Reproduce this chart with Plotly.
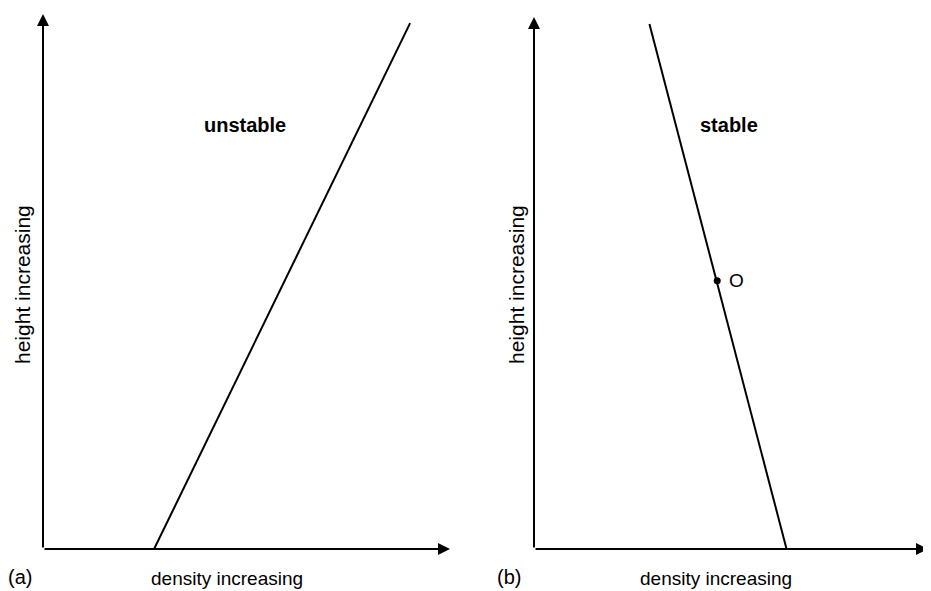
import plotly.graph_objects as go

# Panel (a): unstable profile (density vs height, normalized axes 0..1)
unstable_density = [0.273, 0.902]
unstable_height = [0.0, 0.983]

# Panel (b): stable profile
stable_density = [0.293, 0.641]
stable_height = [0.987, 0.0]

# Point O on stable profile
point_density = [0.465]
point_height = [0.504]
point_label = ["O"]

panel_titles = ["unstable", "stable"]
panel_tags = ["(a)", "(b)"]
x_title = "density increasing"
y_title = "height increasing"

W, H = 931, 591
OFF = 8  # default page body margin
FONT = "Liberation Sans, Arial, sans-serif"

def px(x):
    return (x - OFF) / W

def py(y):
    return 1 - (y - OFF) / H

fig = go.Figure()

fig.add_trace(go.Scatter(x=unstable_density, y=unstable_height, mode="lines",
                         line=dict(color="black", width=2), xaxis="x", yaxis="y",
                         showlegend=False, hoverinfo="skip"))
fig.add_trace(go.Scatter(x=stable_density, y=stable_height, mode="lines",
                         line=dict(color="black", width=2), xaxis="x2", yaxis="y2",
                         showlegend=False, hoverinfo="skip"))
fig.add_trace(go.Scatter(x=point_density, y=point_height, mode="markers",
                         marker=dict(color="black", size=7),
                         xaxis="x2", yaxis="y2", showlegend=False, hoverinfo="skip"))

ax_common = dict(range=[0, 1], visible=False, fixedrange=True)
fig.update_layout(
    width=W, height=H,
    margin=dict(l=0, r=0, t=0, b=0),
    paper_bgcolor="white", plot_bgcolor="white",
    xaxis=dict(domain=[px(43), px(450)], anchor="y", **ax_common),
    yaxis=dict(domain=[py(549), py(14)], anchor="x", **ax_common),
    xaxis2=dict(domain=[px(534), px(928)], anchor="y2", **ax_common),
    yaxis2=dict(domain=[py(549), py(17)], anchor="x2", **ax_common),
)

annotations = []
# axis arrows
for xr, yr in [("x", "y"), ("x2", "y2")]:
    for (tx, ty) in [(1, 0), (0, 1)]:
        annotations.append(dict(x=tx, y=ty, ax=0, ay=0, xref=xr, yref=yr,
                                axref=xr, ayref=yr, showarrow=True, arrowhead=2,
                                arrowsize=1.2, arrowwidth=2, arrowcolor="black",
                                standoff=0, startstandoff=0, text=""))

# label of point O
annotations.append(dict(x=point_density[0], y=point_height[0], xref="x2", yref="y2",
                        text=point_label[0], showarrow=False, xanchor="left", yanchor="middle",
                        xshift=10, font=dict(family=FONT, size=19, color="black")))

def txt(x, y, text, size, angle=0):
    return dict(x=px(x), y=py(y), xref="paper", yref="paper", text=text,
                textangle=angle, xanchor="center", yanchor="middle",
                showarrow=False, font=dict(family=FONT, size=size, color="black"))

# panel titles (bold)
annotations.append(txt(245, 125, "<b>" + panel_titles[0] + "</b>", 20))
annotations.append(txt(729, 125, "<b>" + panel_titles[1] + "</b>", 20))
# x titles
annotations.append(txt(227, 578, x_title, 19))
annotations.append(txt(716, 578, x_title, 19))
# y titles
annotations.append(txt(22, 285, y_title, 21, -90))
annotations.append(txt(516, 285, y_title, 21, -90))
# tags
annotations.append(txt(20, 577, panel_tags[0], 20))
annotations.append(txt(509, 577, panel_tags[1], 20))

fig.update_layout(annotations=annotations)
fig.write_html("out.html")
